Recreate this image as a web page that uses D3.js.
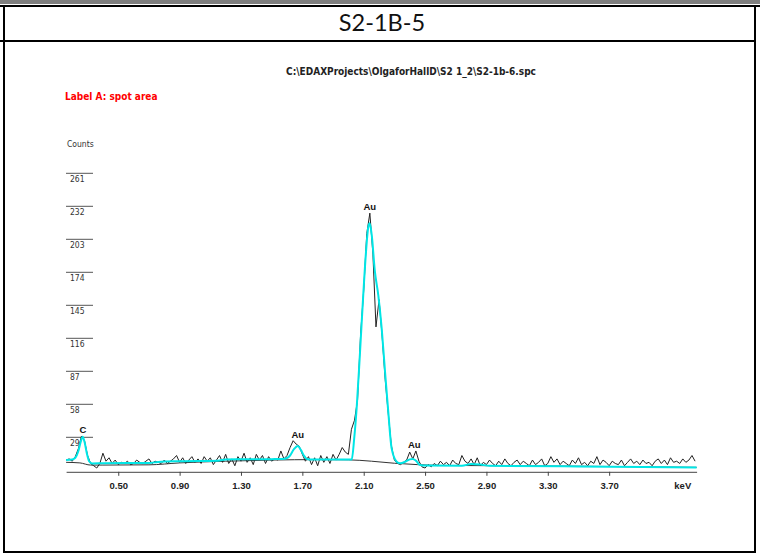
<!DOCTYPE html>
<html>
<head>
<meta charset="utf-8">
<script src="https://cdn.jsdelivr.net/npm/d3@7"></script>
<style>
  body { margin: 0; background: #fff; }
  svg { display: block; }
  .narrow { font-family: "Liberation Sans Narrow", "DejaVu Sans Condensed", sans-serif; }
</style>
</head>
<body>
<div id="chart"></div>
<script>
// spectrum header texts
const title = "S2-1B-5";
const filePath = "C:\\EDAXProjects\\OlgaforHallD\\S2 1_2\\S2-1b-6.spc";
const labelText = "Label A: spot area";

// raw counts, one channel every 0.02 keV starting at 0.16 keV
const startKeV = 0.16, stepKeV = 0.02;
const rawCounts = [
  9, 10, 8, 12, 19, 30, 26, 13, 6, 4,
  2, 6, 15, 8, 11, 6, 9, 5, 7, 6,
  8, 5, 6, 9, 7, 6, 8, 10, 6, 8,
  7, 6, 9, 6, 8, 10, 13, 7, 11, 6,
  9, 12, 7, 10, 6, 12, 8, 11, 5, 9,
  13, 7, 14, 6, 10, 4, 12, 8, 15, 7,
  11, 5, 14, 9, 13, 6, 12, 8, 10, 9,
  17, 10, 13, 20, 26, 23, 21, 14, 8, 12,
  5, 11, 4, 13, 7, 12, 6, 14, 9, 14,
  20, 16, 14, 36, 44, 62, 120, 158, 208, 226,
  190, 126, 150, 118, 80, 50, 22, 9, 6, 5,
  7, 9, 16, 10, 17, 8, 3, 2, 5, 3,
  6, 4, 8, 5, 7, 4, 9, 6, 5, 13,
  8, 6, 10, 5, 11, 4, 7, 5, 9, 6,
  4, 8, 5, 10, 6, 4, 7, 9, 5, 8,
  6, 4, 9, 5, 7, 10, 4, 6, 12, 7,
  10, 5, 8, 6, 4, 9, 6, 11, 5, 7,
  4, 8, 6, 12, 5, 9, 7, 4, 8, 6,
  5, 9, 4, 7, 10, 6, 8, 5, 9, 6,
  7, 4, 8, 10, 6, 9, 5, 11, 7, 8,
  6, 10, 7, 9, 13, 8
];

// fitted spectrum (cyan)
const fitKeV = [0.16, 0.20, 0.22, 0.24, 0.255, 0.268, 0.28, 0.295, 0.31, 0.33,
  0.40, 0.70, 0.76, 0.90, 1.15, 1.20, 1.50, 1.57, 1.60, 1.62, 1.645, 1.67, 1.69,
  1.71, 1.73, 1.76, 2.00, 2.022, 2.038, 2.054, 2.076, 2.097, 2.115, 2.13, 2.139,
  2.152, 2.173, 2.195, 2.217, 2.239, 2.26, 2.282, 2.315, 2.337, 2.37, 2.40, 2.42,
  2.44, 2.467, 2.51, 2.74, 2.80, 2.86, 2.92, 3.50, 4.27];
const fitCounts = [9, 9.5, 11, 17, 25, 29.5, 25, 15, 8, 6,
  6.2, 6.5, 7.4, 8, 8.5, 9.6, 9.8, 9.9, 10.8, 13, 18.5, 21.4, 18,
  13, 10, 9.5, 9.4, 9.5, 28, 54.5, 104, 154, 192, 214, 217,
  207, 174.5, 154, 125, 86.6, 51.5, 19.3, 7.6, 6.2, 7.5, 9.6, 10,
  8.5, 4.7, 4.2, 4, 5.5, 5, 4, 3.4, 2.5];

// background (bremsstrahlung) line
const bgKeV = [0.16, 0.25, 0.32, 0.40, 0.70, 0.90, 1.20, 1.50, 1.80, 2.00, 2.15, 2.30, 2.45, 2.60, 3.00, 3.50, 4.27];
const bgCounts = [7, 6.5, 4.6, 4.6, 4.8, 6.5, 8, 9, 9.4, 9.2, 8, 6.2, 5, 4.3, 4, 3.6, 2.6];

const yTicks = [29, 58, 87, 116, 145, 174, 203, 232, 261];
const xTicks = [0.5, 0.9, 1.3, 1.7, 2.1, 2.5, 2.9, 3.3, 3.7];

const peakNames = ["C", "Au", "Au", "Au"];
const peakKeV = [0.27, 1.67, 2.14, 2.43];

const W = 760, H = 554;
const svg = d3.select("#chart").append("svg")
  .attr("width", W)
  .attr("height", H);

// page frame (table cell)
svg.append("rect").attr("x", 0).attr("y", 0).attr("width", W).attr("height", 4).attr("fill", "#7f7f7f");
svg.append("line").attr("x1", 0).attr("x2", W).attr("y1", 6).attr("y2", 6).attr("stroke", "#000").attr("stroke-width", 2);
svg.append("line").attr("x1", 0).attr("x2", 756).attr("y1", 41).attr("y2", 41).attr("stroke", "#000").attr("stroke-width", 2);
svg.append("line").attr("x1", 4).attr("x2", 4).attr("y1", 6).attr("y2", 553).attr("stroke", "#000").attr("stroke-width", 2);
svg.append("line").attr("x1", 755).attr("x2", 755).attr("y1", 6).attr("y2", 553).attr("stroke", "#000").attr("stroke-width", 2);
svg.append("line").attr("x1", 4).attr("x2", 756).attr("y1", 552).attr("y2", 552).attr("stroke", "#000").attr("stroke-width", 2);

svg.append("text")
  .attr("x", 382).attr("y", 31)
  .attr("text-anchor", "middle")
  .attr("font-family", "Lato, 'Open Sans', sans-serif")
  .attr("font-size", 23.5)
  .attr("fill", "#111")
  .text(title);

svg.append("text").attr("class", "narrow")
  .attr("x", 411).attr("y", 75)
  .attr("text-anchor", "middle")
  .attr("font-size", 10)
  .attr("font-weight", "bold")
  .attr("fill", "#222")
  .text(filePath);

svg.append("text").attr("class", "narrow")
  .attr("x", 65).attr("y", 100)
  .attr("font-size", 10)
  .attr("font-weight", "bold")
  .attr("fill", "#ff0000")
  .text(labelText);

// scales
const x = d3.scaleLinear().domain([0.16, 4.27]).range([66.1, 696.6]);
const y = d3.scaleLinear().domain([0, 261]).range([470.3, 173.3]);

// y ticks: short lines with value written below
svg.append("text").attr("class", "narrow")
  .attr("x", 67).attr("y", 147)
  .attr("font-size", 8.5)
  .attr("fill", "#333")
  .text("Counts");

const yt = svg.append("g").selectAll("g").data(yTicks).enter().append("g");
yt.append("line")
  .attr("x1", 66).attr("x2", 93)
  .attr("y1", d => y(d)).attr("y2", d => y(d))
  .attr("stroke", "#555");
yt.append("text").attr("class", "narrow")
  .attr("x", 70).attr("y", d => y(d) + 9)
  .attr("font-size", 8.5)
  .attr("fill", "#333")
  .text(d => d);

// x axis
const xAxis = d3.axisBottom(x)
  .tickValues(xTicks)
  .tickFormat(d3.format(".2f"))
  .tickSize(4)
  .tickSizeOuter(0)
  .tickPadding(6);

const ax = svg.append("g")
  .attr("transform", `translate(0,${y(0) + 1.5})`)
  .call(xAxis);
ax.select(".domain").attr("stroke", "#444");
ax.selectAll(".tick line").attr("stroke", "#444");
ax.selectAll(".tick text")
  .attr("font-family", "'Liberation Sans', Arial, sans-serif")
  .attr("font-size", 9.5)
  .attr("font-weight", "bold")
  .attr("fill", "#222");

svg.append("text")
  .attr("x", x(4.18)).attr("y", y(0) + 19)
  .attr("text-anchor", "middle")
  .attr("font-family", "'Liberation Sans', Arial, sans-serif")
  .attr("font-size", 9.5)
  .attr("font-weight", "bold")
  .attr("fill", "#222")
  .text("keV");

// spectrum lines
const rawPts = rawCounts.map((c, i) => [startKeV + i * stepKeV, c]);
const fitPts = fitKeV.map((e, i) => [e, fitCounts[i]]);
const bgPts = bgKeV.map((e, i) => [e, bgCounts[i]]);

const line = d3.line().x(d => x(d[0])).y(d => y(d[1]));
const smooth = d3.line().x(d => x(d[0])).y(d => y(d[1])).curve(d3.curveMonotoneX);

svg.append("path").datum(bgPts)
  .attr("d", smooth)
  .attr("fill", "none")
  .attr("stroke", "#333")
  .attr("stroke-width", 1);

svg.append("path").datum(rawPts)
  .attr("d", line)
  .attr("fill", "none")
  .attr("stroke", "#222")
  .attr("stroke-width", 1);

svg.append("path").datum(fitPts)
  .attr("d", smooth)
  .attr("fill", "none")
  .attr("stroke", "#00e6e6")
  .attr("stroke-width", 2);

// peak labels sit just above the highest raw count near each line
peakKeV.forEach((e, i) => {
  const near = rawPts.filter(p => Math.abs(p[0] - e) <= 0.031);
  const top = d3.max(near, p => p[1]);
  svg.append("text")
    .attr("x", x(e)).attr("y", y(top) - 3)
    .attr("text-anchor", "middle")
    .attr("font-family", "'Liberation Sans', Arial, sans-serif")
    .attr("font-size", 9.5)
    .attr("font-weight", "bold")
    .attr("fill", "#111")
    .text(peakNames[i]);
});
</script>
</body>
</html>
